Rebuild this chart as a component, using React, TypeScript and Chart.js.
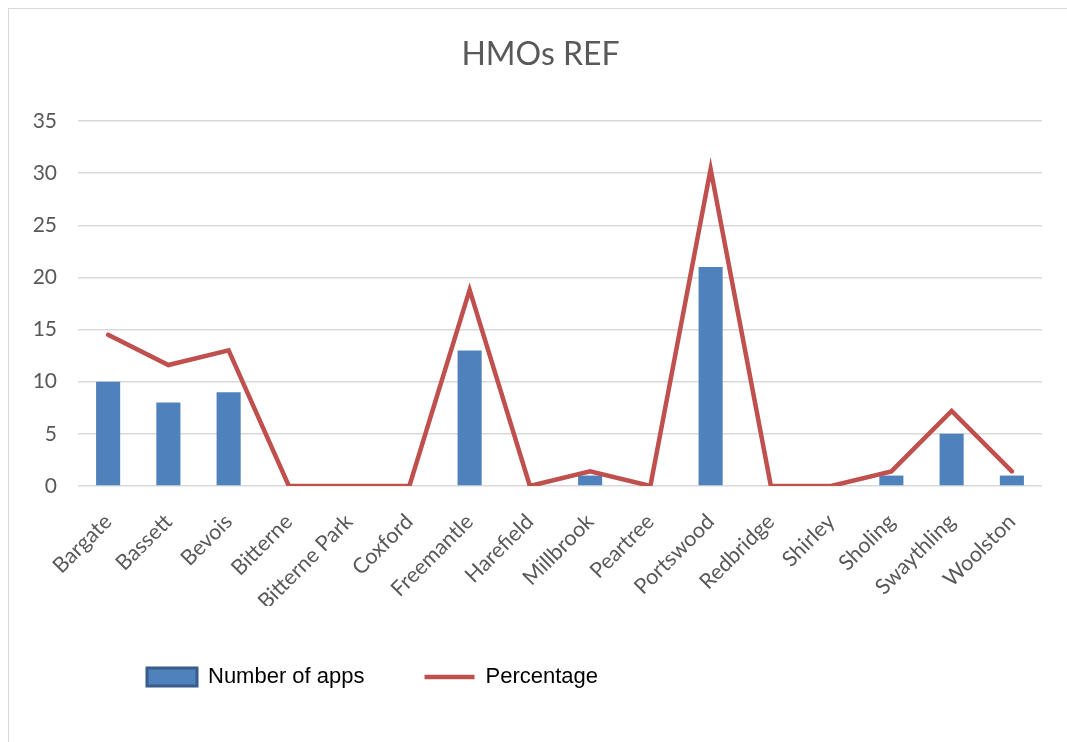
import React, { useEffect, useRef } from "react";
import { Chart, registerables } from "chart.js";

Chart.register(...registerables);

const chartTitle = "HMOs REF";
const categories = [
  "Bargate",
  "Bassett",
  "Bevois",
  "Bitterne",
  "Bitterne Park",
  "Coxford",
  "Freemantle",
  "Harefield",
  "Millbrook",
  "Peartree",
  "Portswood",
  "Redbridge",
  "Shirley",
  "Sholing",
  "Swaythling",
  "Woolston",
];
const numberOfApps = [10, 8, 9, 0, 0, 0, 13, 0, 1, 0, 21, 0, 0, 1, 5, 1];
const percentage = [14.5, 11.6, 13.0, 0, 0, 0, 18.8, 0, 1.4, 0, 30.4, 0, 0, 1.4, 7.2, 1.4];
const seriesLabels = ["Number of apps", "Percentage"];
const yMin = 0;
const yMax = 35;
const yStep = 5;

const BLUE = "#4F81BD";
const BLUE_DARK = "#385D8A";
const RED = "#C0504D";
const GRID = "#d9d9d9";
const TEXT = "#595959";

const shiftPlugin = {
  id: "shiftBoxes",
  afterLayout(chart: any) {
    const t = chart.titleBlock;
    if (t) {
      t.left += 15;
      t.right += 15;
    }
    const l = chart.legend;
    if (l) {
      l.left += 9;
      l.right += 9;
    }
  },
};

export default function App() {
  const canvasRef = useRef<HTMLCanvasElement | null>(null);

  useEffect(() => {
    document.body.style.overflow = "hidden";
    const canvas = canvasRef.current;
    if (!canvas) return;
    const chart = new Chart(canvas, {
      type: "bar",
      data: {
        labels: categories,
        datasets: [
          {
            type: "bar",
            label: seriesLabels[0],
            data: numberOfApps,
            backgroundColor: BLUE,
            borderWidth: 0,
            barPercentage: 0.4,
            categoryPercentage: 1,
            order: 1,
          },
          {
            type: "line",
            label: seriesLabels[1],
            data: percentage,
            borderColor: RED,
            backgroundColor: RED,
            borderWidth: 4.5,
            pointRadius: 0,
            pointHoverRadius: 0,
            tension: 0,
            borderCapStyle: "round",
            borderJoinStyle: "miter",
            order: 0,
          },
        ],
      },
      plugins: [shiftPlugin],
      options: {
        animation: false,
        responsive: false,
        devicePixelRatio: 1,
        layout: { padding: { left: 0, right: 25, top: 0, bottom: 44 } },
        plugins: {
          title: {
            display: true,
            text: chartTitle,
            color: TEXT,
            font: { family: "Lato", size: 32, weight: "normal", lineHeight: 1.2 },
            padding: { top: 26, bottom: 47.6 },
          },
          tooltip: { enabled: false },
          legend: {
            display: true,
            position: "bottom",
            align: "start",
            fullSize: false,
            labels: {
              usePointStyle: true,
              pointStyleWidth: 50,
              boxHeight: 18,
              padding: 60,
              color: "#000000",
              font: { family: "Liberation Sans", size: 22 },
              generateLabels: (ch: any) =>
                ch.data.datasets.map((ds: any, i: number) => ({
                  text: ds.label,
                  datasetIndex: i,
                  hidden: false,
                  fontColor: "#000000",
                  fillStyle: i === 0 ? BLUE : RED,
                  strokeStyle: i === 0 ? BLUE_DARK : RED,
                  lineWidth: i === 0 ? 3 : 4.5,
                  pointStyle: i === 0 ? "rect" : "line",
                  rotation: 0,
                })),
            },
          },
        },
        scales: {
          x: {
            grid: { display: false, drawTicks: false },
            border: { display: false },
            ticks: {
              color: TEXT,
              font: { family: "Lato", size: 21.5 },
              minRotation: 45,
              maxRotation: 45,
              autoSkip: false,
              padding: 23,
            },
            afterFit: (scale: any) => {
              scale.height = 120;
            },
          },
          y: {
            min: yMin,
            max: yMax,
            grid: { color: GRID, lineWidth: 1.5, drawTicks: false },
            border: { display: false },
            ticks: {
              stepSize: yStep,
              color: TEXT,
              font: { family: "Lato", size: 21 },
              padding: 21,
            },
            afterFit: (scale: any) => {
              scale.width = 69;
            },
          },
        },
      },
    });
    return () => chart.destroy();
  }, []);

  return (
    <div
      style={{
        position: "absolute",
        left: 8,
        top: 8,
        width: 1059,
        height: 734,
        boxSizing: "border-box",
        borderTop: "1px solid #d9d9d9",
        borderLeft: "1px solid #d9d9d9",
        background: "#ffffff",
      }}
    >
      <canvas ref={canvasRef} width={1058} height={733} style={{ display: "block" }} />
    </div>
  );
}
